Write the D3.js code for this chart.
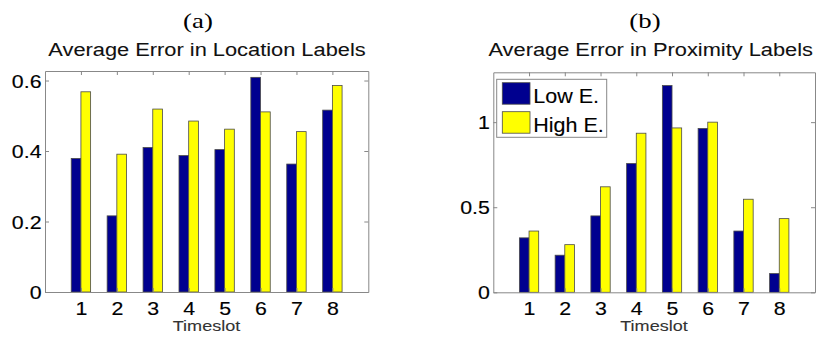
<!DOCTYPE html>
<html><head><meta charset="utf-8">
<script src="https://cdn.jsdelivr.net/npm/d3@7"></script>
<style>
body{margin:0;background:#fff;}
svg{display:block;font-family:"Liberation Sans",Arial,Helvetica,sans-serif;}
</style></head><body>
<svg id="c" width="820" height="341"></svg>
<script>
const timeslots=[1,2,3,4,5,6,7,8];
const seriesNames=["Low E.","High E."];
const seriesColors=["#00008f","#ffff00"];
const locationLow=[0.379,0.216,0.41,0.387,0.404,0.609,0.363,0.516];
const locationHigh=[0.568,0.391,0.519,0.485,0.462,0.511,0.455,0.586];
const proximityLow=[0.32,0.218,0.449,0.757,1.215,0.963,0.36,0.11];
const proximityHigh=[0.36,0.28,0.62,0.935,0.966,1.0,0.547,0.433];
const locationTicks=[0,0.2,0.4,0.6];
const proximityTicks=[0,0.5,1];
const panelLetters=["(a)","(b)"];
const panelTitles=["Average Error in Location Labels","Average Error in Proximity Labels"];
const xLabel="Timeslot";

const SX=1.22;
const AX="#888";
const svg=d3.select("#c");
svg.append("rect").attr("width",820).attr("height",341).attr("fill","#fff");

function stext(x,y,txt,size,opts={}){
  const t=svg.append("text")
    .attr("transform",`translate(${x},${y}) scale(${opts.sx||SX},1)`)
    .attr("text-anchor",opts.anchor||"middle")
    .attr("font-size",size)
    .attr("fill",opts.fill||"#000")
    .attr("stroke",opts.fill||"#000")
    .attr("stroke-width",opts.sw===undefined?0.12:opts.sw)
    .text(txt);
  if(opts.family) t.attr("font-family",opts.family);
  return t;
}

const panels=[
 {left:45,right:368.3,top:71,bottom:292,ymax:0.627,ticks:locationTicks,low:locationLow,high:locationHigh,letterX:198,titleX:207,labelX:206.5,legend:false},
 {left:493.3,right:815,top:72.3,bottom:292.3,ymax:1.293,ticks:proximityTicks,low:proximityLow,high:proximityHigh,letterX:645,titleX:650.7,labelX:654,legend:true}
];

panels.forEach((p,pi)=>{
  const x=d3.scaleLinear().domain([0,9]).range([p.left,p.right]);
  const y=d3.scaleLinear().domain([0,p.ymax]).range([p.bottom,p.top]);
  const bw=x(0.27)-x(0);
  const g=svg.append("g");
  const series=[p.low,p.high];
  series.forEach((vals,si)=>{
    g.selectAll(null).data(timeslots).enter().append("rect")
      .attr("x",(d)=> si===0 ? x(d)-bw : x(d))
      .attr("width",bw)
      .attr("y",(d,i)=>y(vals[i]))
      .attr("height",(d,i)=>y(0)-y(vals[i]))
      .attr("fill",seriesColors[si])
      .attr("stroke","#4a4a4a")
      .attr("stroke-width",0.8);
  });
  const left=svg.append("g").attr("transform",`translate(${p.left},0)`)
    .call(d3.axisLeft(y).tickValues(p.ticks).tickSize(-4).tickSizeOuter(0).tickPadding(3.5).tickFormat(String));
  const right=svg.append("g").attr("transform",`translate(${p.right},0)`)
    .call(d3.axisRight(y).tickValues(p.ticks).tickSize(-4).tickSizeOuter(0).tickFormat(""));
  const bottom=svg.append("g").attr("transform",`translate(0,${p.bottom})`)
    .call(d3.axisBottom(x).tickValues(timeslots).tickSize(-4).tickSizeOuter(0).tickPadding(10.5).tickFormat(String));
  const top=svg.append("g").attr("transform",`translate(0,${p.top})`)
    .call(d3.axisTop(x).tickValues(timeslots).tickSize(-4).tickSizeOuter(0).tickFormat(""));
  [left,right,bottom,top].forEach(a=>{
    a.selectAll(".domain,.tick line").attr("stroke",AX).attr("stroke-width",1);
    a.attr("font-family",null).attr("font-size",null);
  });
  [left,bottom].forEach(a=>a.selectAll("text")
    .attr("transform",`scale(${SX},1)`).attr("font-size",17.5)
    .attr("fill","#000").attr("stroke","#000").attr("stroke-width",0.15));
  left.selectAll("text").attr("x",-3.5/SX).attr("dy","0.38em");
  bottom.selectAll("text").attr("dy","0.71em");
  stext(p.letterX,28,panelLetters[pi],22,{family:"'Liberation Serif','DejaVu Serif',serif",sw:0});
  stext(p.titleX,55.5,panelTitles[pi],18.5,{fill:"#111",sx:1.18,sw:0.08});
  stext(p.labelX,331,xLabel,14.8,{fill:"#333",sw:0.1});
  if(p.legend){
    const lx=p.left+3.4, ly=p.top+7;
    svg.append("rect").attr("x",lx).attr("y",ly).attr("width",110).attr("height",58)
      .attr("fill","#fff").attr("stroke",AX).attr("stroke-width",1);
    seriesNames.forEach((n,si)=>{
      svg.append("rect").attr("x",lx+5.6).attr("y",ly+3.4+si*29).attr("width",27.7).attr("height",21.5)
        .attr("fill",seriesColors[si]).attr("stroke","#4a4a4a").attr("stroke-width",0.8);
      stext(lx+36.6,ly+23.3+si*29,n,20.5,{anchor:"start",sx:1.05});
    });
  }
});
</script>
</body></html>
